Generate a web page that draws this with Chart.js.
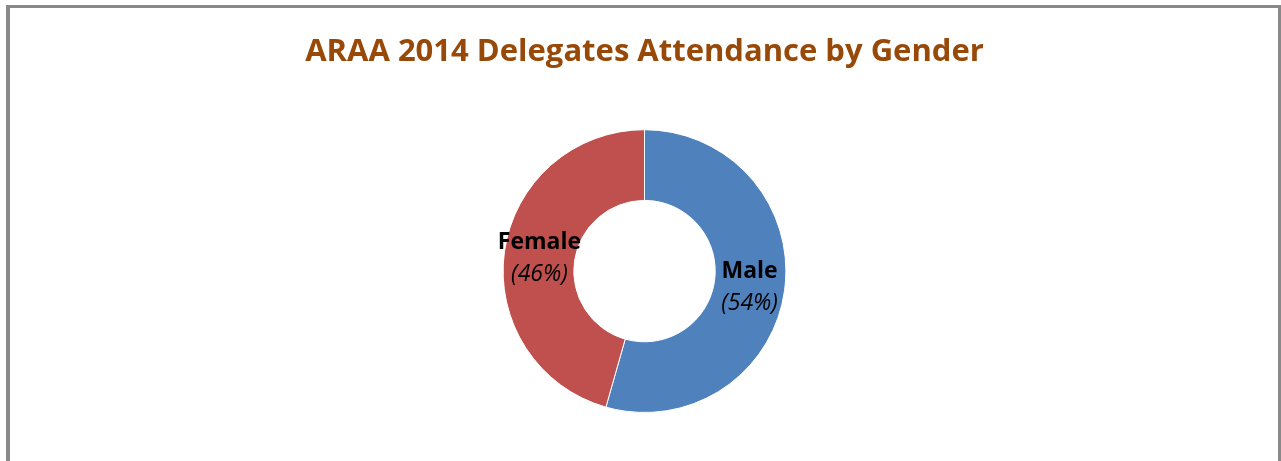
<!DOCTYPE html>
<html>
<head>
<meta charset="utf-8">
<script src="https://cdn.jsdelivr.net/npm/chart.js@4/dist/chart.umd.min.js"></script>
<style>
  html, body { margin: 0; padding: 0; background: #fff; overflow: hidden; }
  #wrap { position: relative; width: 1281px; height: 461px; }
  #frame {
    position: absolute; left: 6px; top: 5px; width: 1268px; height: 470px;
    border-left: 4px solid #898989; border-right: 3px solid #898989; border-top: 3px solid #898989;
    pointer-events: none;
  }
</style>
</head>
<body>
<div id="wrap">
  <canvas id="chart" width="1281" height="461"></canvas>
  <div id="frame"></div>
</div>
<script>
/* ARAA 2014 — delegates attendance by gender (doughnut) */
var chartTitle = 'ARAA 2014 Delegates Attendance by Gender';
var genders    = ['Male', 'Female'];
var attendance = [54.4, 45.6];   // % (divisão em ~196°)
var colours    = ['#4F81BD', '#C0504D'];

// rótulos dentro do anel: nome em negrito + percentagem em itálico
var ringLabels = {
  id: 'ringLabels',
  afterDatasetsDraw: function(chart) {
    var ctx = chart.ctx;
    var meta = chart.getDatasetMeta(0);
    var data = chart.data.datasets[0].data;
    var total = data.reduce(function(a, b){ return a + b; }, 0);
    ctx.save();
    ctx.fillStyle = '#000';
    ctx.textAlign = 'center';
    ctx.textBaseline = 'middle';
    meta.data.forEach(function(arc, i) {
      var p = arc.tooltipPosition();
      var pct = Math.round(data[i] / total * 100);
      ctx.font = 'bold 23px "Open Sans"';
      ctx.fillText(chart.data.labels[i], p.x, p.y - 14);
      ctx.font = 'italic 23px "Open Sans"';
      ctx.fillText('(' + pct + '%)', p.x, p.y + 18);
    });
    ctx.restore();
  }
};

new Chart(document.getElementById('chart'), {
  type: 'doughnut',
  data: {
    labels: genders,
    datasets: [{
      data: attendance,
      backgroundColor: colours,
      borderColor: '#ffffff',
      borderWidth: 1,
      hoverOffset: 0
    }]
  },
  options: {
    responsive: false,
    animation: false,
    cutout: '50%',
    layout: { padding: { top: 0, bottom: 48, left: 8, right: 0 } },
    plugins: {
      legend: { display: false },
      tooltip: { enabled: false },
      title: {
        display: true,
        text: chartTitle,
        color: '#984807',
        font: { family: '"Open Sans"', size: 31, weight: 'bold', lineHeight: 1.2 },
        padding: { top: 34, bottom: 58 }
      }
    }
  },
  plugins: [ringLabels]
});
</script>
</body>
</html>
